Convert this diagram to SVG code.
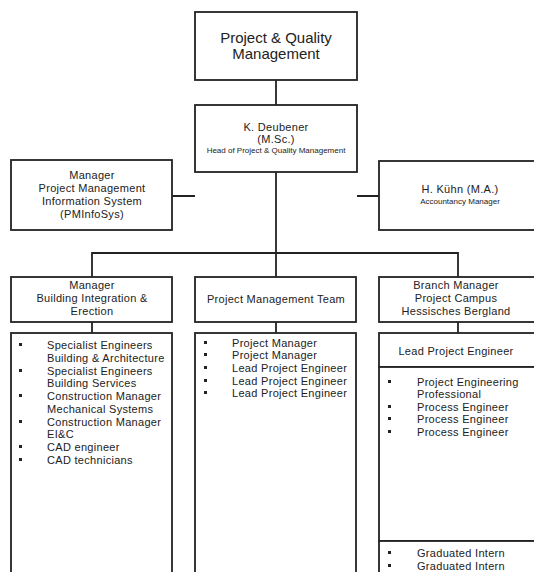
<svg xmlns="http://www.w3.org/2000/svg" width="534" height="572" viewBox="0 0 534 572">
<style>
.box{fill:#fff;stroke:#222;stroke-width:1.8}
.ln{fill:none;stroke:#222;stroke-width:1.8}
text{font-family:"Liberation Sans",Arial,sans-serif;fill:#222}
.t{font-size:11px;letter-spacing:0.3px;text-anchor:middle}
.l{font-size:11px;letter-spacing:0.3px}
.s{font-size:8px;text-anchor:middle}
.b{fill:#222}
</style>
<rect width="534" height="572" fill="#fff"/>
<g id="connectors">
<path class="ln" d="M276 80V105"/>
<path class="ln" d="M276 172V253"/>
<path class="ln" d="M172 196H195M357 196H379"/>
<path class="ln" d="M92 277V253H458V277M276 253V277"/>
<path class="ln" d="M92 322V333M276 322V333M458 322V333"/>
</g>
<g id="n-pqm">
<rect class="box" x="195" y="12" width="162" height="68"/>
<text x="276" y="43" font-size="15" text-anchor="middle">Project &amp; Quality</text>
<text x="276" y="59" font-size="15" text-anchor="middle">Management</text>
</g>
<g id="n-deubener">
<rect class="box" x="195" y="105" width="162" height="67"/>
<text class="t" x="276" y="131">K. Deubener</text>
<text class="t" x="276" y="143">(M.Sc.)</text>
<text class="s" x="276" y="153">Head of Project &amp; Quality Management</text>
</g>
<g id="n-pminfosys">
<rect class="box" x="11" y="160" width="161" height="70"/>
<text class="t" x="92" y="179">Manager</text>
<text class="t" x="92" y="192">Project Management</text>
<text class="t" x="92" y="205">Information System</text>
<text class="t" x="92" y="218">(PMInfoSys)</text>
</g>
<g id="n-kuehn">
<rect class="box" x="379" y="161" width="162" height="69"/>
<text class="t" x="460" y="193">H. Kühn (M.A.)</text>
<text class="s" x="460" y="204">Accountancy Manager</text>
</g>
<g id="n-building">
<rect class="box" x="11" y="277" width="161" height="45"/>
<text class="t" x="92" y="289">Manager</text>
<text class="t" x="92" y="302">Building Integration &amp;</text>
<text class="t" x="92" y="315">Erection</text>
</g>
<g id="n-pmteam">
<rect class="box" x="195" y="277" width="161" height="45"/>
<text class="t" x="276" y="303">Project Management Team</text>
</g>
<g id="n-branch">
<rect class="box" x="379" y="277" width="162" height="45"/>
<text class="t" x="456" y="289">Branch Manager</text>
<text class="t" x="456" y="302">Project Campus</text>
<text class="t" x="456" y="315">Hessisches Bergland</text>
</g>
<g id="n-building-list">
<rect class="box" x="11" y="333" width="161" height="250"/>
<g class="b">
<rect x="19" y="343" width="3" height="3"/>
<rect x="19" y="369" width="3" height="3"/>
<rect x="19" y="394" width="3" height="3"/>
<rect x="19" y="420" width="3" height="3"/>
<rect x="19" y="445" width="3" height="3"/>
<rect x="19" y="458" width="3" height="3"/>
</g>
<text class="l" x="47" y="349">Specialist Engineers</text>
<text class="l" x="47" y="362">Building &amp; Architecture</text>
<text class="l" x="47" y="375">Specialist Engineers</text>
<text class="l" x="47" y="387">Building Services</text>
<text class="l" x="47" y="400">Construction Manager</text>
<text class="l" x="47" y="413">Mechanical Systems</text>
<text class="l" x="47" y="426">Construction Manager</text>
<text class="l" x="47" y="438">EI&amp;C</text>
<text class="l" x="47" y="451">CAD engineer</text>
<text class="l" x="47" y="464">CAD technicians</text>
</g>
<g id="n-pmteam-list">
<rect class="box" x="195" y="333" width="161" height="250"/>
<g class="b">
<rect x="204" y="341" width="3" height="3"/>
<rect x="204" y="353" width="3" height="3"/>
<rect x="204" y="366" width="3" height="3"/>
<rect x="204" y="379" width="3" height="3"/>
<rect x="204" y="391" width="3" height="3"/>
</g>
<text class="l" x="232" y="347">Project Manager</text>
<text class="l" x="232" y="359">Project Manager</text>
<text class="l" x="232" y="372">Lead Project Engineer</text>
<text class="l" x="232" y="385">Lead Project Engineer</text>
<text class="l" x="232" y="397">Lead Project Engineer</text>
</g>
<g id="n-leadpe">
<rect class="box" x="379" y="333" width="162" height="34"/>
<text class="t" x="456" y="355">Lead Project Engineer</text>
</g>
<g id="n-leadpe-list">
<rect class="box" x="379" y="367" width="162" height="174"/>
<g class="b">
<rect x="388" y="380" width="3" height="3"/>
<rect x="388" y="405" width="3" height="3"/>
<rect x="388" y="417" width="3" height="3"/>
<rect x="388" y="430" width="3" height="3"/>
</g>
<text class="l" x="417" y="386">Project Engineering</text>
<text class="l" x="417" y="398">Professional</text>
<text class="l" x="417" y="411">Process Engineer</text>
<text class="l" x="417" y="423">Process Engineer</text>
<text class="l" x="417" y="436">Process Engineer</text>
</g>
<g id="n-interns">
<rect class="box" x="379" y="541" width="162" height="50"/>
<g class="b">
<rect x="388" y="551" width="3" height="3"/>
<rect x="388" y="564" width="3" height="3"/>
</g>
<text class="l" x="417" y="557">Graduated Intern</text>
<text class="l" x="417" y="570">Graduated Intern</text>
</g>
</svg>
